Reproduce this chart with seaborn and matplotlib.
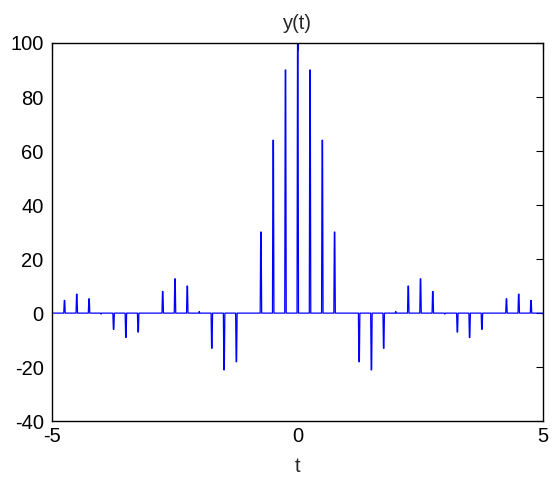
import numpy as np
import pandas as pd
import seaborn as sns
import matplotlib.pyplot as plt

# pulse positions (t) and heights
pulse_t = [-4.75, -4.5, -4.25, -4.0, -3.75, -3.5, -3.25, -2.75, -2.5, -2.25, -2.0,
           -1.75, -1.5, -1.25, -0.75, -0.5, -0.25, 0.0, 0.25, 0.5, 0.75,
           1.25, 1.5, 1.75, 2.0, 2.25, 2.5, 2.75, 3.0, 3.25, 3.5, 3.75,
           4.25, 4.5, 4.75, 5.0]
pulse_y = [4.7, 7.0, 5.3, -0.4, -6.0, -9.0, -7.0, 8.0, 12.7, 10.0, 0.6,
           -13.0, -21.0, -18.0, 30.0, 64.0, 90.0, 100.0, 90.0, 64.0, 30.0,
           -18.0, -21.0, -13.0, 0.6, 10.0, 12.7, 8.0, -0.4, -7.0, -9.0, -6.0,
           5.3, 7.0, 4.7, -0.4]

# sample grid of the plotted signal
dt = 0.01
t = np.round(np.arange(-5, 5 + dt / 2, dt), 4)
y = np.zeros_like(t)
for pt, py in zip(pulse_t, pulse_y):
    i = int(round((pt + 5) / dt))
    y[i] = py
    if i + 1 < len(y) and abs(py) > 1:
        y[i + 1] = py

df = pd.DataFrame({'t': t, 'y': y})

sns.set_style('white')
plt.rcParams['font.family'] = ['Liberation Sans', 'DejaVu Sans']
plt.rcParams['axes.unicode_minus'] = False

fig = plt.figure(figsize=(5.53, 4.83), dpi=100)
ax = fig.add_axes([0.094, 0.128, 0.888, 0.783])
sns.lineplot(data=df, x='t', y='y', color='blue', linewidth=0.9, ax=ax)

ax.set_xlim(-5, 5)
ax.set_ylim(-40, 100)
ax.set_xticks([-5, 0, 5])
ax.set_yticks(range(-40, 101, 20))
ax.set_title('y(t)', fontsize=14.5, pad=10)
ax.set_xlabel('t', fontsize=14.5, labelpad=8)
ax.set_ylabel('')
ax.tick_params(direction='in', length=5, width=0.8, labelsize=14.5,
               top=True, right=True, colors='black')
ax.tick_params(axis='y', pad=6)
ax.tick_params(axis='x', pad=4)
for s in ax.spines.values():
    s.set_visible(True)
    s.set_color('black')
    s.set_linewidth(1.0)

fig.savefig('out.png', dpi=100)
